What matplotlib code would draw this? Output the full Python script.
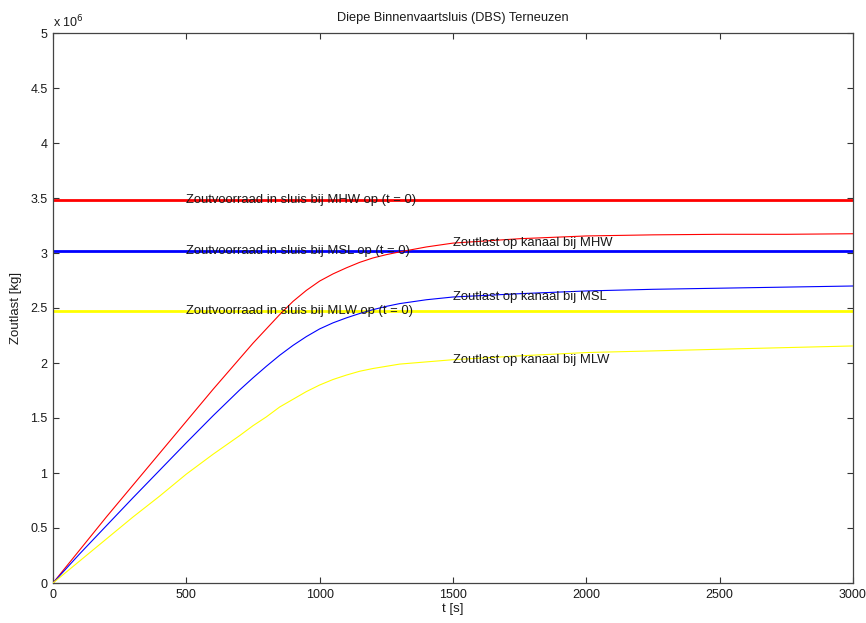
import matplotlib
matplotlib.use("Agg")
import matplotlib.pyplot as plt
from matplotlib.ticker import FuncFormatter, MultipleLocator
import numpy as np

plt.rcParams['font.family'] = ['Liberation Sans', 'DejaVu Sans']

# Time axis [s]
t = [0, 100, 200, 300, 400, 500, 600, 700, 750, 800, 850, 900, 950, 1000,
     1050, 1100, 1150, 1200, 1250, 1300, 1400, 1500, 1750, 2000, 2250,
     2500, 2750, 3000]

# Salt load on the canal [x 1e6 kg] for the three water levels
last_mhw = [0.00, 0.30, 0.60, 0.89, 1.18, 1.47, 1.76, 2.04, 2.18, 2.31,
            2.44, 2.56, 2.66, 2.745, 2.81, 2.865, 2.915, 2.955, 2.985, 3.01,
            3.055, 3.09, 3.13, 3.155, 3.165, 3.17, 3.17, 3.175]
last_msl = [0.00, 0.265, 0.52, 0.775, 1.025, 1.275, 1.52, 1.755, 1.865, 1.97,
            2.07, 2.16, 2.24, 2.31, 2.365, 2.41, 2.45, 2.485, 2.515, 2.54,
            2.575, 2.60, 2.63, 2.655, 2.67, 2.68, 2.69, 2.70]
last_mlw = [0.00, 0.20, 0.40, 0.60, 0.79, 0.99, 1.17, 1.34, 1.43, 1.51,
            1.60, 1.67, 1.74, 1.80, 1.85, 1.89, 1.925, 1.95, 1.97, 1.99,
            2.01, 2.03, 2.065, 2.095, 2.11, 2.125, 2.14, 2.155]

# Salt stock in the lock at t = 0 [x 1e6 kg]
voorraad = {"MHW": 3.48, "MSL": 3.015, "MLW": 2.47}

scale = 1e6
t = np.array(t)
curves = {"MHW": np.array(last_mhw) * scale,
          "MSL": np.array(last_msl) * scale,
          "MLW": np.array(last_mlw) * scale}
colors = {"MHW": (1, 0, 0), "MSL": (0, 0, 1), "MLW": (1, 1, 0)}

fig = plt.figure(figsize=(8.66, 6.23), dpi=100)
ax = fig.add_axes([53 / 866, 40 / 623, 800 / 866, 550 / 623])

t_lbl_h = 500
t_lbl_c = 1500
for key in ["MHW", "MSL", "MLW"]:
    ax.axhline(voorraad[key] * scale, color=colors[key], lw=2.0, zorder=2)
    ax.plot(t, curves[key], color=colors[key], lw=0.8, zorder=3)
    ax.text(t_lbl_h, voorraad[key] * scale,
            f"Zoutvoorraad in sluis bij {key} op (t = 0)",
            ha='left', va='center', fontsize=9.4, color='#1a1a1a', zorder=4)
    y_c = np.interp(t_lbl_c, t, curves[key])
    ax.text(t_lbl_c, y_c, f"Zoutlast op kanaal bij {key}",
            ha='left', va='center', fontsize=9.4, color='#1a1a1a', zorder=4)

ax.set_xlim(0, 3000)
ax.set_ylim(0, 5 * scale)
ax.xaxis.set_major_locator(MultipleLocator(500))
ax.yaxis.set_major_locator(MultipleLocator(0.5 * scale))
ax.yaxis.set_major_formatter(FuncFormatter(lambda v, p: f"{v / scale:g}"))

ax.tick_params(direction='in', length=4.5, width=0.8, top=True, right=True,
               labelsize=9, colors='#333333', labelcolor='#1a1a1a', pad=4)
for s in ax.spines.values():
    s.set_color('#444444')
    s.set_linewidth(0.9)

ax.text(0.0, 1.005, r"x 10$^6$", transform=ax.transAxes, ha='left',
        va='bottom', fontsize=9, color='#1a1a1a')

ax.set_title("Diepe Binnenvaartsluis (DBS) Terneuzen", fontsize=9.2,
             color='#1a1a1a', pad=9)
ax.set_xlabel("t [s]", fontsize=9.5, color='#1a1a1a', labelpad=2)
ax.set_ylabel("Zoutlast [kg]", fontsize=9.5, color='#1a1a1a', labelpad=6)

fig.savefig("out.png", dpi=100)
